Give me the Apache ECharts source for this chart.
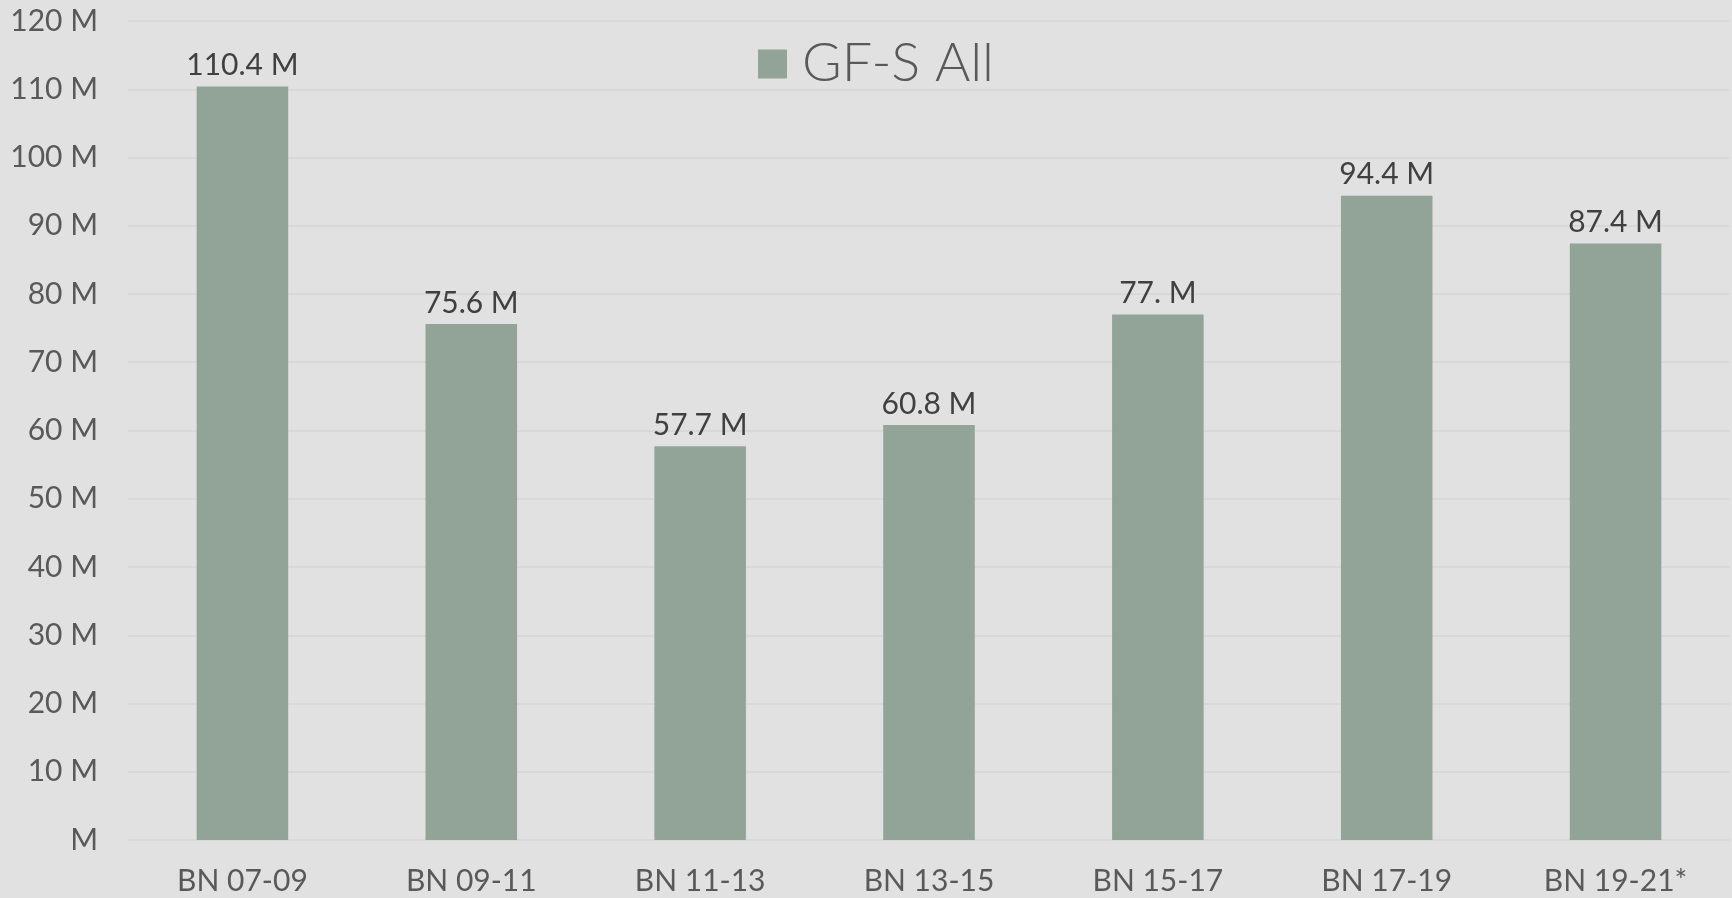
<!DOCTYPE html>
<html>
<head>
<meta charset="utf-8">
<script src="https://cdn.jsdelivr.net/npm/echarts@6/dist/echarts.min.js"></script>
<style>
  html, body { margin: 0; padding: 0; background: #e1e1e1; }
  #main { width: 1732px; height: 898px; }
</style>
</head>
<body>
<div id="main"></div>
<script>
var categories = ['BN 07-09', 'BN 09-11', 'BN 11-13', 'BN 13-15', 'BN 15-17', 'BN 17-19', 'BN 19-21*'];
var gfsAll = [110.4, 75.6, 57.7, 60.8, 77.0, 94.4, 87.4];
var barLabels = ['110.4 M', '75.6 M', '57.7 M', '60.8 M', '77. M', '94.4 M', '87.4 M'];

var chart = echarts.init(document.getElementById('main'));

// 图表配置
var option = {
    backgroundColor: '#e1e1e1',
    animation: false,
    textStyle: {
        fontFamily: 'Lato'
    },
    legend: {
        data: ['GF-S All'],
        top: 32,
        left: 753,
        itemWidth: 29,
        itemHeight: 29,
        itemGap: 10,
        icon: 'rect',
        textStyle: {
            fontSize: 54,
            fontWeight: 300,
            color: '#595959',
            fontFamily: 'Lato',
            padding: [0, 0, 0, 10]
        }
    },
    grid: {
        left: 128,
        right: 2,
        top: 21,
        bottom: 58,
        containLabel: false
    },
    xAxis: {
        type: 'category',
        data: categories,
        axisLine: { show: false },
        axisTick: { show: false },
        axisLabel: {
            fontSize: 30,
            color: '#595959',
            margin: 26
        }
    },
    yAxis: {
        type: 'value',
        min: 0,
        max: 120,
        interval: 10,
        axisLine: { show: false },
        axisTick: { show: false },
        splitLine: {
            lineStyle: { color: '#d8d8d8', width: 2 }
        },
        axisLabel: {
            fontSize: 30,
            color: '#595959',
            margin: 30,
            formatter: function(v) {
                return v === 0 ? 'M' : v + ' M';
            }
        }
    },
    series: [{
        name: 'GF-S All',
        type: 'bar',
        data: gfsAll,
        barWidth: '40%',
        itemStyle: { color: '#92a398' },
        label: {
            show: true,
            position: 'top',
            distance: 6,
            fontSize: 30,
            color: '#404040',
            formatter: function(p) {
                return barLabels[p.dataIndex];
            }
        }
    }]
};
chart.setOption(option);
</script>
</body>
</html>
